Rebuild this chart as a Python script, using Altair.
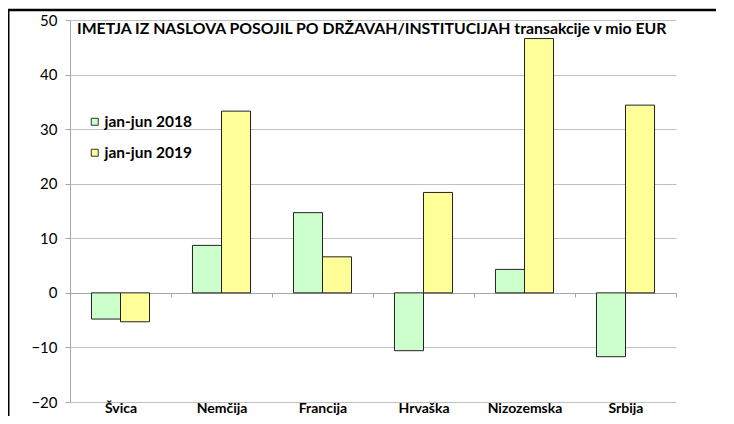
import altair as alt
import pandas as pd

countries = ["Švica", "Nemčija", "Francija", "Hrvaška", "Nizozemska", "Srbija"]
series_names = ["jan-jun 2018", "jan-jun 2019"]
values_2018 = [-4.8, 8.7, 14.7, -10.6, 4.3, -11.7]
values_2019 = [-5.3, 33.3, 6.6, 18.4, 46.6, 34.4]
colors = ["#CCFFCC", "#FFFF99"]
y_ticks = [-20, -10, 0, 10, 20, 30, 40, 50]
TITLE = "IMETJA IZ NASLOVA POSOJIL PO DRŽAVAH/INSTITUCIJAH  transakcije v mio EUR"

rows = []
for c, a, b in zip(countries, values_2018, values_2019):
    rows.append({"country": c, "series": series_names[0], "value": a})
    rows.append({"country": c, "series": series_names[1], "value": b})
df = pd.DataFrame(rows)
one = pd.DataFrame({"title": [TITLE]})

FONT = "Lato"
W, H = 606, 382

bars = alt.Chart(df).mark_bar(stroke="#222222", strokeWidth=1).encode(
    x=alt.X("country:N", sort=countries,
            scale=alt.Scale(paddingInner=0, paddingOuter=0),
            axis=alt.Axis(title=None, orient="bottom", offset=-109,
                          domainColor="#a6a6a6", tickColor="#a6a6a6",
                          tickBand="extent", tickSize=4, labelAngle=0,
                          labelPadding=115, labelFont=FONT, labelFontSize=14,
                          labelFontWeight="bold", labelColor="black",
                          labelBaseline="alphabetic")),
    xOffset=alt.XOffset("series:N", sort=series_names,
                        scale=alt.Scale(paddingOuter=0.74, paddingInner=0)),
    y=alt.Y("value:Q", scale=alt.Scale(domain=[-20, 50], nice=False),
            axis=alt.Axis(title=None, values=y_ticks, grid=True,
                          gridColor="#c0c0c0", domainColor="#a6a6a6",
                          tickColor="#a6a6a6", tickSize=5, labelPadding=8,
                          labelFont=FONT, labelFontSize=15, labelColor="black")),
    color=alt.Color("series:N", sort=series_names,
                    scale=alt.Scale(domain=series_names, range=colors),
                    legend=alt.Legend(title=None, orient="none", legendX=17,
                                      legendY=94, symbolType="square",
                                      symbolSize=49, symbolStrokeColor="#333333",
                                      symbolStrokeWidth=1, labelFont=FONT,
                                      labelFontSize=15.5, labelFontWeight="bold",
                                      labelColor="black", rowPadding=14,
                                      labelOffset=2)),
)

title = alt.Chart(one).mark_text(font=FONT, fontSize=15.8,
                                 fontWeight="bold", align="left",
                                 baseline="alphabetic", color="black").encode(
    text="title:N", x=alt.value(7), y=alt.value(14))

frame_v = alt.Chart(one).mark_rule(color="black", strokeWidth=3).encode(
    x=alt.value(-62), y=alt.value(-10), y2=alt.value(600))
frame_h = alt.Chart(one).mark_rule(color="black", strokeWidth=2.5).encode(
    x=alt.value(-62), x2=alt.value(700), y=alt.value(-10))

chart = alt.layer(bars, title, frame_v, frame_h).properties(
    width=W, height=H,
    autosize=alt.AutoSizeParams(type="none"),
    padding={"left": 62, "top": 12, "right": 40, "bottom": 14},
).configure_view(stroke=None)

chart.save("out.html", embed_options={"renderer": "svg", "actions": False})
